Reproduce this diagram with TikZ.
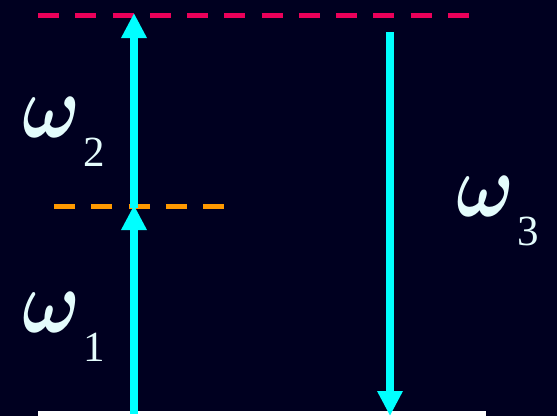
\documentclass[tikz,border=0pt]{standalone}
\usepackage{fontspec}
\usepackage{graphicx}
\usepackage{bm}
\setmainfont{Liberation Serif}
\usetikzlibrary{arrows.meta}
\definecolor{bgnavy}{RGB}{0,0,32}
\definecolor{lvlred}{RGB}{235,0,90}
\definecolor{lvlorange}{RGB}{255,153,0}
\definecolor{beamcyan}{RGB}{0,255,255}
\definecolor{labelcol}{RGB}{228,252,252}
\tikzset{
  level/.style={line width=5pt, dash pattern=on 21pt off 16.25pt},
  beam/.style={beamcyan, line width=8pt, -{Triangle[width=24pt,length=25pt]}},
  omegalabel/.style={anchor=base west, inner sep=0pt, text=labelcol}
}
\newcommand{\omegasub}[1]{\resizebox{58pt}{40pt}{$\bm{\omega}$}\hspace{3pt}{\fontsize{43}{43}\selectfont\raisebox{-29pt}{#1}}}
\begin{document}
\begin{tikzpicture}[x=1pt,y=-1pt]
  \fill[bgnavy] (0,0) rectangle (557,416);
  \useasboundingbox (0,0) rectangle (557,416);
  \clip (0,0) rectangle (557,416);
  % level coordinates
  \coordinate (topL) at (38,15);
  \coordinate (topR) at (472,15);
  \coordinate (midL) at (54,206);
  \coordinate (midR) at (226,206);
  \coordinate (gndL) at (38,414);
  \coordinate (gndR) at (486,414);
  % beam coordinates
  \coordinate (a0) at (134,414);
  \coordinate (a1) at (134,205);
  \coordinate (a1s) at (134,208);
  \coordinate (a2) at (134,13);
  \coordinate (b0) at (390,32);
  \coordinate (b1) at (390,416);
  % levels
  \draw[level, lvlred] (topL) -- (topR);
  \draw[level, lvlorange] (midL) -- (midR);
  \draw[white, line width=6pt] (gndL) -- (gndR);
  % beams
  \draw[beam] (a0) -- (a1);
  \draw[beam] (a1s) -- (a2);
  \draw[beam] (b0) -- (b1);
  % labels
  \node[omegalabel] (w2) at (22,137) {\omegasub{2}};
  \node[omegalabel] (w1) at (22,332) {\omegasub{1}};
  \node[omegalabel] (w3) at (456,216) {\omegasub{3}};
\end{tikzpicture}
\end{document}
